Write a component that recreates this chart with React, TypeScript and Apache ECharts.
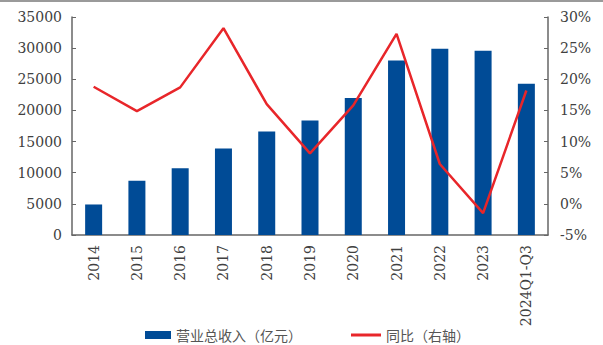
import React, { useEffect, useRef } from "react";
import * as echarts from "echarts";

const categories = ["2014", "2015", "2016", "2017", "2018", "2019", "2020", "2021", "2022", "2023", "2024Q1-Q3"];
const revenue = [4900, 8700, 10700, 13900, 16600, 18400, 22000, 28000, 29900, 29600, 24300];
const yoy = [18.8, 14.9, 18.7, 28.2, 16.0, 8.1, 15.8, 27.3, 6.4, -1.5, 18.2];
const leftTicks = { min: 0, max: 35000, interval: 5000 };
const rightTicks = { min: -5, max: 30, interval: 5 };
const seriesNames = ["营业总收入（亿元）", "同比（右轴）"];

export default function App() {
  const ref = useRef<HTMLDivElement>(null);
  useEffect(() => {
    if (!ref.current) return;
    const chart = echarts.init(ref.current, null, { renderer: "svg" });
    const axisFont = { fontFamily: "DejaVu Serif", fontSize: 14, color: "#404040" };
    const legendText = { fontFamily: "Noto Sans CJK SC", fontSize: 14, color: "#555", lineHeight: 16 };
    chart.setOption({
      animation: false,
      backgroundColor: "#fff",
      graphic: [
        { type: "rect", shape: { x: 0, y: 0, width: 603, height: 2 }, style: { fill: "#9a9a9a" } },
      ],
      grid: { left: 72, right: 55, top: 17, bottom: 110 },
      legend: [
        {
          left: 140,
          top: 322,
          itemWidth: 26,
          itemHeight: 8,
          textStyle: legendText,
          data: [{ name: seriesNames[0], icon: "rect" }],
        },
        {
          left: 346,
          top: 322,
          itemWidth: 30,
          itemHeight: 3,
          textStyle: legendText,
          data: [{ name: seriesNames[1], icon: "rect" }],
        },
      ],
      xAxis: {
        type: "category",
        data: categories,
        axisLine: { lineStyle: { color: "#666", width: 1.5 } },
        axisTick: { show: false },
        axisLabel: { ...axisFont, rotate: 90, interval: 0, margin: 10 },
      },
      yAxis: [
        {
          type: "value",
          ...leftTicks,
          splitLine: { show: false },
          axisLine: { show: true, lineStyle: { color: "#666", width: 1.5 } },
          axisTick: { show: true, inside: true, length: 4, lineStyle: { color: "#666" } },
          axisLabel: { ...axisFont, margin: 10, formatter: (v: number) => String(v) },
        },
        {
          type: "value",
          ...rightTicks,
          splitLine: { show: false },
          axisLine: { show: true, lineStyle: { color: "#666", width: 1.5 } },
          axisTick: { show: true, inside: true, length: 4, lineStyle: { color: "#666" } },
          axisLabel: { ...axisFont, margin: 12, formatter: "{value}%" },
        },
      ],
      series: [
        {
          name: seriesNames[0],
          type: "bar",
          data: revenue,
          barWidth: 17,
          itemStyle: { color: "#004b96" },
        },
        {
          name: seriesNames[1],
          type: "line",
          yAxisIndex: 1,
          data: yoy,
          symbol: "none",
          lineStyle: { color: "#e8262a", width: 2.5 },
          itemStyle: { color: "#e8262a" },
        },
      ],
    });
    return () => chart.dispose();
  }, []);
  return <div ref={ref} style={{ position: "fixed", left: 0, top: 0, width: 603, height: 345 }} />;
}
